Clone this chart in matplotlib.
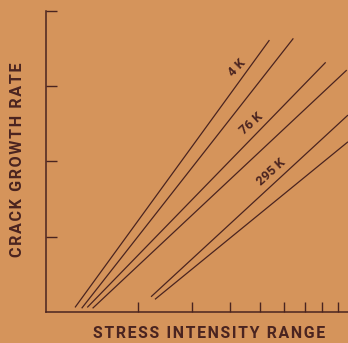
import matplotlib
matplotlib.use("Agg")
import matplotlib.pyplot as plt
import numpy as np

# Data (x: stress intensity range, log; y: crack growth rate, log)
line_labels = ["4 K", "4 K", "76 K", "76 K", "295 K", "295 K"]
x_start = [1.244, 1.308, 1.364, 1.420, 2.204, 2.270]
x_end = [5.37, 6.43, 8.20, 9.61, 9.70, 9.70]
y_start = [1.14, 1.11, 1.14, 1.11, 1.58, 1.46]
y_end = [4100, 4325, 2075, 1637, 413, 182]

label_text = ["4 K", "76 K", "295 K"]
label_x = [4.20, 4.68, 5.45]
label_y = [1780, 315, 72]
label_rot = [46, 42, 42]

x_ticks = [2, 3, 4, 5, 6, 7, 8, 9]
y_ticks = [10, 100, 1000, 10000]

bg = "#D5945B"
ink = "#4A2420"
fam = ["Roboto", "DejaVu Sans"]

fig = plt.figure(figsize=(3.48, 3.43), dpi=100, facecolor=bg)
ax = fig.add_axes([46/348, (343-311.7)/343, 1 - 46/348, (311.7-11)/343])
ax.set_facecolor(bg)
ax.set_xscale("log")
ax.set_yscale("log")
ax.set_xlim(1, 9.70)
ax.set_ylim(1, 10000)

for xs, xe, ys, ye in zip(x_start, x_end, y_start, y_end):
    ax.plot([xs, xe], [ys, ye], color=ink, lw=0.9, solid_capstyle="butt")

for t, x, y, r in zip(label_text, label_x, label_y, label_rot):
    ax.text(x, y, t, rotation=r, ha="center", va="center", fontsize=9.3,
            fontweight="bold", color=ink, family=fam)

ax.spines["top"].set_visible(False)
ax.spines["right"].set_visible(False)
for s in ["left", "bottom"]:
    ax.spines[s].set_color(ink)
    ax.spines[s].set_linewidth(1.1)

ax.xaxis.set_minor_locator(matplotlib.ticker.NullLocator())
ax.yaxis.set_minor_locator(matplotlib.ticker.NullLocator())
ax.set_xticks(x_ticks)
ax.set_yticks(y_ticks)
ax.set_xticklabels([])
ax.set_yticklabels([])
ax.tick_params(axis="x", direction="in", length=7.2, width=1.0, color=ink)
ax.tick_params(axis="y", direction="in", length=7.9, width=1.0, color=ink)
for lbl in ax.get_yticklines():
    lbl.set_clip_on(False)

def spaced(s):
    return "\u200a".join(s)

tx = fig.text((93+325)/2/348, 1 - 334/343, spaced("STRESS INTENSITY RANGE"),
              ha="center", va="center", fontsize=12, fontweight="bold", color=ink, family=fam)
ty = fig.text(18/348, 1 - 160/343, spaced("CRACK GROWTH RATE"), rotation=90,
              ha="center", va="center", fontsize=12, fontweight="bold", color=ink, family=fam)

# fit label lengths to the reference
r = fig.canvas.get_renderer()
wx = tx.get_window_extent(r).width
tx.set_fontsize(12 * 232 / wx)
hy = ty.get_window_extent(r).height
ty.set_fontsize(12 * 196 / hy)

fig.savefig("out.png", dpi=100, facecolor=bg)
